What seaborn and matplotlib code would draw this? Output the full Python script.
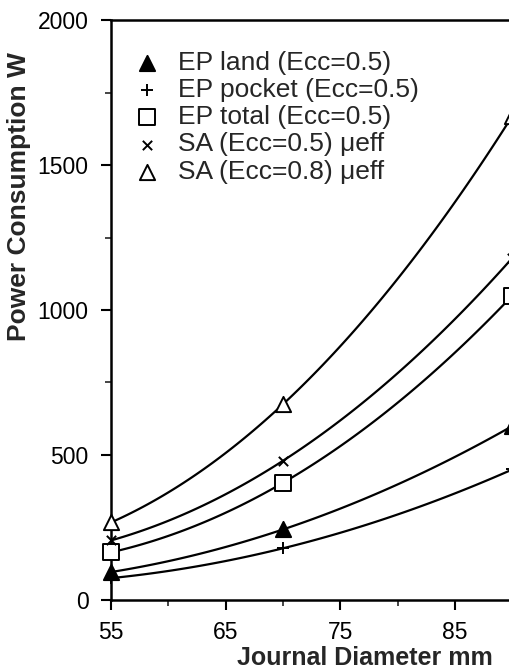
import matplotlib
matplotlib.use("Agg")
import matplotlib.pyplot as plt
import seaborn as sns
import numpy as np
from matplotlib.ticker import MultipleLocator

sns.set_theme(style="ticks")
plt.rcParams['font.family'] = ['Liberation Sans', 'DejaVu Sans']

# Journal diameter (mm) at which the power consumption was computed
diameter = [55, 70, 90]

# Power consumption (W) per method
ep_land = [96, 243, 600]
ep_pocket = [75, 178, 450]
ep_total = [164, 404, 1050]
sa_ecc05 = [205, 480, 1180]
sa_ecc08 = [267, 675, 1670]

series = [
    ('EP land (Ecc=0.5)', ep_land, '^', 'black'),
    ('EP pocket (Ecc=0.5)', ep_pocket, '+', 'black'),
    ('EP total (Ecc=0.5)', ep_total, 's', 'white'),
    ('SA (Ecc=0.5) \u03bceff', sa_ecc05, 'x', 'black'),
    ('SA (Ecc=0.8) \u03bceff', sa_ecc08, '^', 'white'),
]

fig = plt.figure(figsize=(5.09, 6.71), dpi=100)
ax = fig.add_axes([0.218, 0.106, 0.782, 0.864])

for label, vals, marker, face in series:
    # smooth trend curve through the three points (second order fit)
    sns.regplot(x=diameter, y=vals, order=2, ci=None, scatter=False, truncate=True,
                line_kws={'color': 'black', 'lw': 1.6}, ax=ax)
    if marker in ('+', 'x'):
        ax.scatter(diameter, vals, marker=marker, s=70 if marker == '+' else 45,
                   color='black', linewidths=1.4, zorder=3, clip_on=False, label=label)
    else:
        ax.scatter(diameter, vals, marker=marker, s=120, facecolor=face,
                   edgecolor='black', linewidths=1.4, zorder=3, clip_on=False, label=label)

ax.set_xlim(55, 89.7)
ax.set_ylim(0, 2000)
ax.xaxis.set_minor_locator(MultipleLocator(5))
ax.yaxis.set_major_locator(MultipleLocator(500))
ax.yaxis.set_minor_locator(MultipleLocator(250))
ax.set_xticks([55, 65, 75, 85])

ax.spines['right'].set_visible(False)
for s in ['left', 'bottom', 'top']:
    ax.spines[s].set_linewidth(1.8)
    ax.spines[s].set_color('black')

ax.tick_params(axis='both', which='major', direction='out', length=7, width=1.5,
               labelsize=16.5, colors='black', pad=8)
ax.tick_params(axis='y', which='major', pad=9)
ax.tick_params(axis='both', which='minor', direction='out', length=4, width=1.2)

ax.set_xlabel('Journal Diameter mm', fontsize=18, fontweight='bold')
ax.set_ylabel('Power Consumption W', fontsize=19, fontweight='bold')
ax.xaxis.set_label_coords(0.637, -0.08)
ax.yaxis.set_label_coords(-0.20, 0.696)

ax.legend(loc='upper left', bbox_to_anchor=(0.03, 0.965), frameon=False,
          fontsize=19, handletextpad=0.7, labelspacing=0.12, handlelength=1.0,
          borderaxespad=0)

ax.grid(False)
fig.savefig('out.png', dpi=100)
